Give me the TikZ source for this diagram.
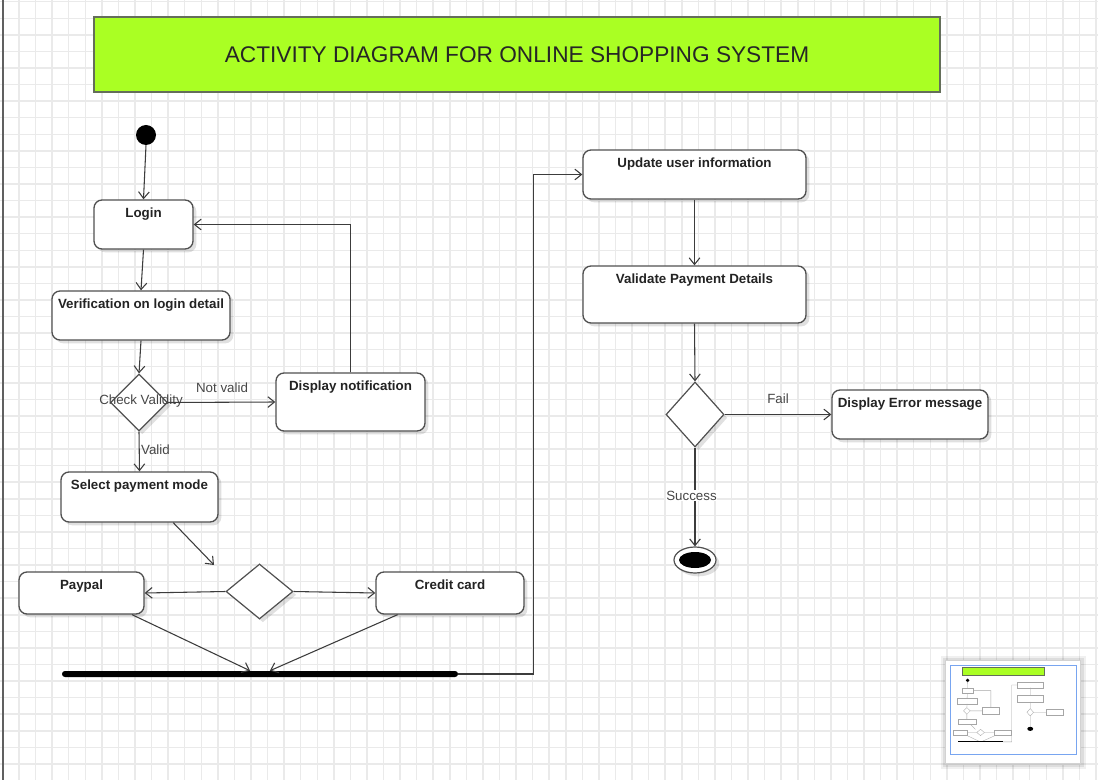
\documentclass[tikz,border=0pt]{standalone}
\usepackage{fontspec}
\setmainfont{Liberation Sans}
\usetikzlibrary{shapes.geometric,arrows.meta,shadows,calc}
\definecolor{limec}{RGB}{170,255,35}
\definecolor{limeborder}{RGB}{100,110,90}
\definecolor{gridc}{RGB}{234,234,234}
\definecolor{linec}{RGB}{60,60,60}
\definecolor{boxc}{RGB}{80,80,80}
\definecolor{txtc}{RGB}{35,35,35}
\definecolor{lblc}{RGB}{70,70,70}
\definecolor{thumbblue}{RGB}{120,165,240}
\begin{document}
\begin{tikzpicture}[x=0.75pt,y=-0.75pt,
  gridline/.style={gridc, line width=1.1pt},
  sz/.style 2 args={minimum width=#1*0.75pt, minimum height=#2*0.75pt},
  shad/.style={drop shadow={shadow xshift=2.5pt, shadow yshift=-2.5pt, opacity=0.12, fill=black}},
  act/.style={draw=boxc, line width=1pt, fill=white, rounded corners=6pt, inner sep=0pt, shad},
  acttext/.style={font=\bfseries\fontsize{10}{12}\selectfont, text=txtc, anchor=base, inner sep=0pt, yshift=-13.3pt},
  dec/.style={diamond, draw=boxc, line width=0.9pt, fill=white, inner sep=0pt, shad},
  lbl/.style={font=\fontsize{10}{12}\selectfont, text=lblc, inner sep=0.5pt},
  flow/.style={draw=linec, line width=0.8pt, -{Straight Barb[length=5pt,width=8pt]}},
  thumbbox/.style={draw=gray!70, line width=0.25pt, fill=white},
  thumbline/.style={draw=gray!70, line width=0.25pt}
]
\useasboundingbox (0,0) rectangle (1098,780);
\fill[white] (0,0) rectangle (1098,780);
% grid
\foreach \i in {0,...,66} \draw[gridline] (2.4+16.57*\i,0) -- (2.4+16.57*\i,780);
\foreach \j in {0,...,47} \draw[gridline] (0,1.7+16.57*\j) -- (1098,1.7+16.57*\j);
\draw[gray!75!black, line width=1pt] (3,0) -- (3,780);

% title
\node[draw=limeborder, line width=1.3pt, fill=limec, sz={846}{75}, inner sep=0pt,
  font=\fontsize{17}{20}\selectfont, text=black!85] (title) at (517,54.5)
  {ACTIVITY DIAGRAM FOR ONLINE SHOPPING SYSTEM};

% start
\node[circle, fill=black, minimum size=15pt, inner sep=0pt] (start) at (146,135) {};

% activities
\node[act, sz={99}{49}, label={[acttext]north:Login}] (login) at (143.5,224.5) {};
\node[act, sz={178}{49}, label={[acttext]north:Verification on login detail}] (verif) at (141,315.5) {};
\node[act, sz={149}{58}, label={[acttext]north:Display notification}] (disp) at (350.5,402) {};
\node[act, sz={157}{50}, label={[acttext]north:Select payment mode}] (sel) at (139.5,497) {};
\node[act, sz={125}{42}, label={[acttext]north:Paypal}] (paypal) at (81.5,593) {};
\node[act, sz={148}{42}, label={[acttext]north:Credit card}] (credit) at (450,593) {};
\node[act, sz={223}{49}, label={[acttext]north:Update user information}] (update) at (694.5,174.5) {};
\node[act, sz={223}{57}, label={[acttext]north:Validate Payment Details}] (valpay) at (694.5,294.5) {};
\node[act, sz={156}{49}, label={[acttext]north:Display Error message}] (err) at (910,414.5) {};

% decisions
\node[dec, sz={57}{57}] (chk) at (139,402.5) {};
\node[lbl, text=lblc] (chklbl) at (141,401) {Check Validity};
\node[dec, sz={67}{55}] (d2) at (259.5,591.5) {};
\node[dec, sz={58}{65}] (d3) at (695,414.5) {};

% join bar
\node[fill=black, sz={396}{6}, inner sep=0pt, rounded corners=2.2pt] (bar) at (260,674) {};

% final
\node[ellipse, draw=boxc, line width=0.9pt, fill=white, sz={42}{26}, inner sep=0pt, shad] (final) at (695,560) {};
\node[ellipse, fill=black, sz={32}{16}, inner sep=0pt] (finalin) at (695,560) {};

% connectors
\draw[flow] (start.south) -- (login.north);
\draw[flow] (login.south) -- (verif.north);
\draw[flow] (verif.south) -- (chk.north);
\draw[flow] (chk.east) -- (disp.west);
\node[lbl] (notvalid) at (222,387.5) {Not valid};
\draw[flow] (disp.north) |- (login.east);
\draw[flow] (chk.south) -- (sel.north);
\node[lbl] (valid) at (155.5,450) {Valid};
\coordinate (d2in) at (214,565);
\draw[flow] ($(sel.south west)!0.713!(sel.south east)$) -- (d2in);
\draw[flow] (d2.west) -- (paypal.east);
\draw[flow] (d2.east) -- (credit.west);
\draw[flow] ($(paypal.south west)!0.9!(paypal.south east)$) -- ($(bar.north west)!0.475!(bar.north east)$);
\draw[flow] ($(credit.south west)!0.149!(credit.south east)$) -- ($(bar.north west)!0.525!(bar.north east)$);
\draw[flow] (bar.east) -- ++(75,0) |- (update.west);
\draw[flow] (update.south) -- (valpay.north);
\draw[flow] (valpay.south) -- (d3.north);
\draw[flow] (d3.east) -- (err.west);
\node[lbl] (fail) at (778,399) {Fail};
\draw[flow] (d3.south) -- (final.north);
\node[lbl, fill=white] (success) at (691.5,495.5) {Success};

% thumbnail
\fill[black, opacity=0.08] (943,658) rectangle (1084,767);
\fill[black, opacity=0.06] (941,656) rectangle (1086,769);
\draw[draw=gray!35, fill=white] (945,660) rectangle (1080,763);
\draw[thumbblue, line width=0.7pt] (950,665) rectangle (1076,754);
\begin{scope}[shift={(951,665)}, scale=0.114]
  \draw[fill=limec, draw=limeborder, line width=0.2pt] (94,17) rectangle (820,92);
  \fill[black] (146,135) circle (16);
  \draw[thumbbox] (94,200) rectangle (193,249);
  \draw[thumbbox] (52,291) rectangle (230,340);
  \draw[thumbbox] (276,373) rectangle (425,431);
  \draw[thumbbox] (61,472) rectangle (218,522);
  \draw[thumbbox] (19,572) rectangle (144,614);
  \draw[thumbbox] (376,572) rectangle (524,614);
  \draw[thumbbox] (583,150) rectangle (806,199);
  \draw[thumbbox] (583,266) rectangle (806,323);
  \draw[thumbbox] (832,390) rectangle (988,439);
  \draw[thumbbox] (139,374) -- (168,402) -- (139,431) -- (110,402) -- cycle;
  \draw[thumbbox] (259,564) -- (293,592) -- (259,619) -- (226,592) -- cycle;
  \draw[thumbbox] (695,382) -- (724,415) -- (695,447) -- (666,415) -- cycle;
  \draw[thumbline] (146,145) -- (144,200) (143,249) -- (141,291) (141,340) -- (139,374)
    (168,402) -- (276,402) (350,373) |- (193,225) (139,431) -- (139,472)
    (173,522) -- (214,565) (226,592) -- (144,592) (293,592) -- (376,592)
    (131,614) -- (250,671) (398,614) -- (270,671) (458,674) -- (533,674) |- (583,175)
    (695,199) -- (695,266) (695,323) -- (695,382) (724,415) -- (832,415) (695,447) -- (695,548);
  \draw[line width=0.6pt] (62,674) -- (458,674);
  \fill[black] (695,560) ellipse (26 and 18);
\end{scope}
\end{tikzpicture}
\end{document}
